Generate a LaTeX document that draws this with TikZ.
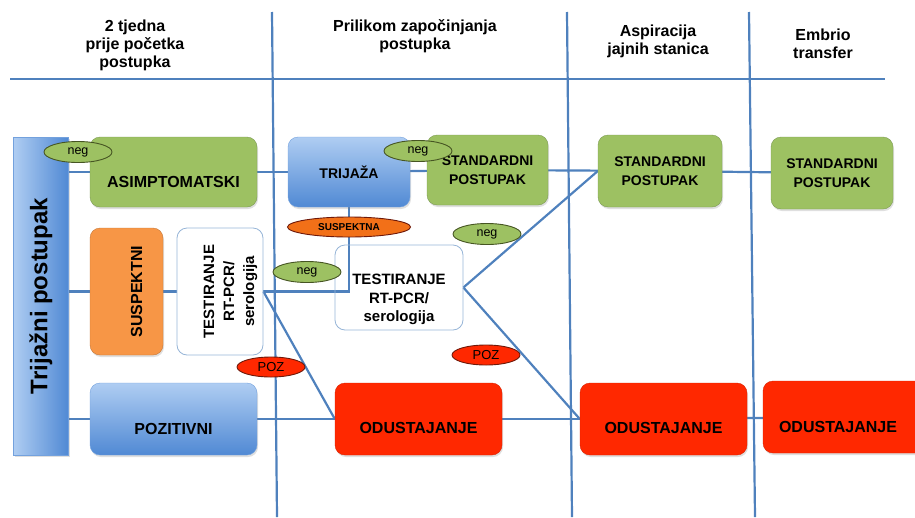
\documentclass[tikz,border=0pt]{standalone}
\usepackage{fontspec}
\setmainfont{Liberation Sans}
\usepackage{tikz}
\usetikzlibrary{shapes}
\usetikzlibrary{shadows}
\usetikzlibrary{backgrounds}
\definecolor{lineblue}{RGB}{79,129,189}
\definecolor{boxgreen}{RGB}{157,193,98}
\definecolor{boxgreenline}{RGB}{125,155,85}
\definecolor{tagolive}{RGB}{70,85,35}
\definecolor{boxorange}{RGB}{247,150,70}
\definecolor{tagorange}{RGB}{242,112,24}
\definecolor{boxred}{RGB}{255,40,0}
\definecolor{tagdark}{RGB}{110,25,10}
\definecolor{bluetop}{RGB}{175,205,242}
\definecolor{bluebot}{RGB}{80,137,212}
\definecolor{testline}{RGB}{150,180,215}
\newcommand{\lowtxt}[2]{\raisebox{-#1pt}[\height][\depth]{#2}}
\newcommand{\negtag}[3]{\node[negtag] (#1) at (#2,#3) {neg};}
\newcommand{\poztag}[3]{\node[poztag] (#1) at (#2,#3) {POZ};}
\tikzset{
  box/.style={draw, rounded corners=10pt, inner sep=2pt, align=center,
    font=\bfseries\fontsize{16}{18}\selectfont},
  shade box/.style={drop shadow={opacity=0.25, shadow xshift=1pt, shadow yshift=-2pt}},
  greenbox/.style={box, shade box, fill=boxgreen, draw=boxgreenline},
  bluebox/.style={box, shade box, top color=bluetop, bottom color=bluebot, draw=bluebot!80},
  orangebox/.style={box, shade box, fill=boxorange, draw=boxorange!80!black},
  redbox/.style={box, shade box, fill=boxred, draw=boxred!85!black},
  testbox/.style={box, draw=testline, line width=0.8pt},
  tag/.style={ellipse, draw, line width=0.9pt, inner sep=0pt},
  negtag/.style={tag, fill=boxgreen, draw=tagolive, minimum width=68, minimum height=21,
    font=\fontsize{12.5}{12}\selectfont},
  poztag/.style={tag, fill=boxred, draw=tagdark, minimum width=68, minimum height=20,
    font=\fontsize{13}{13}\selectfont},
  link/.style={draw=lineblue, line width=2.2pt},
  head/.style={align=center, font=\bfseries\fontsize{16}{18}\selectfont}
}

\begin{document}
\begin{tikzpicture}[x=1pt, y=-1pt]
  \useasboundingbox (0,0) rectangle (915,517);
  % header
  \node[head] (h1) at (135,45) {2 tjedna\\prije početka\\postupka};
  \node[head] (h2) at (415,36) {Prilikom započinjanja\\postupka};
  \node[head] (h3) at (658,41) {Aspiracija\\jajnih stanica};
  \node[head] (h4) at (823,44) {Embrio\\transfer};
  % side bar
  \node[box, left color=bluetop, right color=bluebot, draw=bluebot!80, rounded corners=0pt,
    shade box, minimum width=55, minimum height=318, font=\bfseries\fontsize{24}{24}\selectfont]
    (bar) at (41,296) {\rotatebox{90}{Trijažni postupak}};
  % row 1
  \node[greenbox, minimum width=167, minimum height=70] (asim) at (173.5,172) {\lowtxt{10}{ASIMPTOMATSKI}};
  \node[bluebox, minimum width=122, minimum height=70, font=\bfseries\fontsize{14}{18}\selectfont]
    (triaza) at (349,172) {TRIJAŽA};
  \node[greenbox, minimum width=121, minimum height=70, font=\bfseries\fontsize{14}{19}\selectfont]
    (stand1) at (487.5,170) {STANDARDNI\\POSTUPAK};
  \node[greenbox, minimum width=124, minimum height=72, font=\bfseries\fontsize{14}{19}\selectfont]
    (stand2) at (660,171) {STANDARDNI\\POSTUPAK};
  \node[greenbox, minimum width=122, minimum height=72, font=\bfseries\fontsize{14}{19}\selectfont]
    (stand3) at (832,173) {STANDARDNI\\POSTUPAK};
  % row 2
  \node[orangebox, minimum width=73, minimum height=127] (susp) at (126.5,291.5)
    {\rotatebox{90}{\lowtxt{10}{SUSPEKTNI}}};
  \node[testbox, minimum width=86, minimum height=127, font=\bfseries\fontsize{15}{20}\selectfont]
    (test1) at (220,291.5)
    {\rotatebox{90}{\lowtxt{10}{\begin{tabular}{@{}c@{}}TESTIRANJE\\RT-PCR/\\serologija\end{tabular}}}};
  \node[testbox, minimum width=128, minimum height=85, font=\bfseries\fontsize{15}{18.5}\selectfont]
    (test2) at (399,287.5)
    {\lowtxt{12}{\begin{tabular}{@{}c@{}}TESTIRANJE\\RT-PCR/\\serologija\end{tabular}}};
  % row 3
  \node[bluebox, minimum width=167, minimum height=72] (pozit) at (173.5,419) {\lowtxt{10}{POZITIVNI}};
  \node[redbox, minimum width=167, minimum height=72] (odust1) at (418.5,419) {\lowtxt{9}{ODUSTAJANJE}};
  \node[redbox, minimum width=167, minimum height=72] (odust2) at (663.5,419) {\lowtxt{9}{ODUSTAJANJE}};
  \node[redbox, minimum width=162, minimum height=72] (odust3) at (844,417) {\lowtxt{10}{\hspace*{-12pt}ODUSTAJANJE}};
  % tags
  \negtag{neg1}{78}{152}
  \negtag{neg2}{418}{151}
  \negtag{neg3}{487}{234}
  \negtag{neg4}{307}{272}
  \node[tag, fill=tagorange, draw=tagdark, minimum width=123, minimum height=20,
    font=\bfseries\fontsize{10}{10}\selectfont] (suspektna) at (349,227) {SUSPEKTNA};
  \poztag{poz1}{271}{367}
  \poztag{poz2}{486}{355}
  % lines
  \begin{scope}[on background layer]
    \draw[link] (10,79) -- (885,79);
    \draw[link] (272,12) -- (277,517);
    \draw[link] (567,12) -- (572,517);
    \draw[link] (749,12) -- (755,517);
    \draw[link] (bar.east |- asim.west) -- (asim.west);
    \draw[link] (asim) -- (triaza);
    \draw[link] (triaza) -- (stand1);
    \draw[link] (stand1) -- (stand2);
    \draw[link] (stand2) -- (stand3);
    \draw[link] (bar.east |- susp.west) -- (susp.west);
    \draw[link] (susp) -- (test1);
    \draw[link] (triaza.south) |- (test1.east);
    \draw[link] (test1.east) -- (odust1.west);
    \draw[link] (test2.east) -- (stand2.west);
    \draw[link] (test2.east) -- (odust2.west);
    \draw[link] (bar.east |- pozit.west) -- (pozit.west);
    \draw[link] (pozit) -- (odust1);
    \draw[link] (odust1) -- (odust2);
    \draw[link] (odust2) -- (odust3);
  \end{scope}
\end{tikzpicture}
\end{document}
